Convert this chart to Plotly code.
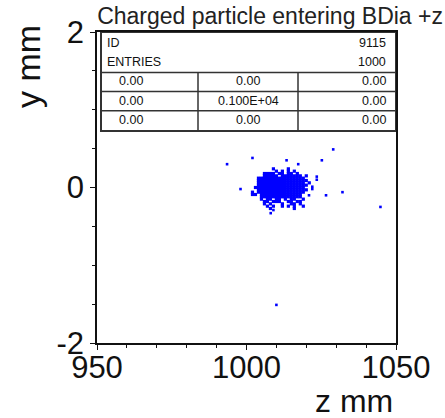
import plotly.graph_objects as go

# ---- data ----
title_text = "Charged particle entering BDia +z"
x_title = "z mm"
y_title = "y mm"

# dense core: rows of y (mm) and the z (mm) cells that are filled in each row
core_y = [0.24, 0.21, 0.18, 0.15, 0.12, 0.09, 0.06, 0.03, 0.00, -0.03,
          -0.06, -0.09, -0.12, -0.15, -0.18, -0.21, -0.24, -0.27]
core_z = [
    [1009, 1014],
    [1010, 1012, 1014, 1016],
    [1006, 1007, 1008, 1009, 1011, 1012, 1014, 1015, 1017],
    [1006, 1007, 1008, 1009, 1010, 1012, 1013, 1014, 1015, 1016, 1017, 1018, 1020],
    [1004, 1005, 1006, 1007, 1008, 1009, 1010, 1011, 1012, 1013, 1014, 1015, 1016, 1017, 1018, 1019],
    [1004, 1005, 1006, 1007, 1008, 1009, 1010, 1011, 1012, 1013, 1014, 1015, 1016, 1017, 1018, 1019, 1020],
    [1004, 1005, 1006, 1007, 1008, 1009, 1010, 1011, 1012, 1013, 1014, 1015, 1016, 1017, 1018, 1019, 1021],
    [1004, 1005, 1006, 1007, 1008, 1009, 1010, 1011, 1012, 1013, 1014, 1015, 1016, 1017, 1018, 1019, 1020],
    [1003, 1004, 1005, 1006, 1007, 1008, 1009, 1010, 1011, 1012, 1013, 1014, 1015, 1016, 1017, 1018, 1019],
    [1004, 1005, 1006, 1007, 1008, 1009, 1010, 1011, 1012, 1013, 1014, 1015, 1016, 1017, 1018, 1019, 1020],
    [1002, 1004, 1005, 1006, 1007, 1008, 1009, 1010, 1011, 1012, 1013, 1014, 1015, 1016, 1017, 1018, 1019],
    [1002, 1003, 1005, 1006, 1007, 1008, 1009, 1010, 1011, 1012, 1013, 1014, 1015, 1016, 1017, 1018],
    [1005, 1006, 1007, 1008, 1009, 1010, 1011, 1012, 1013, 1014, 1015, 1016, 1017, 1018],
    [1005, 1007, 1008, 1010, 1011, 1013, 1015, 1016, 1019],
    [1006, 1007, 1009, 1010, 1011, 1014, 1015, 1017, 1018],
    [1006, 1008, 1012, 1015, 1016, 1018],
    [1007, 1009, 1012, 1014, 1016, 1019],
    [1008, 1016],
]

# isolated entries
out_z = [1029.0, 1002.0, 993.5, 1013.4, 1017.3, 1025.2, 998.0, 1023.5, 1023.5,
         1026.6, 1032.1, 1044.8, 1008.1, 1009.0, 1022.0, 1022.0, 1020.9, 1010.0]
out_y = [0.49, 0.38, 0.30, 0.35, 0.30, 0.35, -0.02, 0.14, 0.10,
         -0.10, -0.06, -0.25, -0.33, -0.29, 0.01, -0.02, -0.10, -1.51]

# statistics box
stat_id = "9115"
stat_entries = "1000"
stat_rows = [["0.00", "0.00", "0.00"],
             ["0.00", "0.100E+04", "0.00"],
             ["0.00", "0.00", "0.00"]]

x_range = [950, 1050]
y_range = [-2, 2]
x_ticks = [950, 1000, 1050]
y_ticks = [-2, 0, 2]

# ---- build figure ----
cz, cy = [], []
for yv, zs in zip(core_y, core_z):
    for zv in zs:
        cz.append(zv)
        cy.append(yv)

FONT = "Liberation Sans, Arial, sans-serif"
BLUE = "#0000ff"

fig = go.Figure()
fig.add_trace(go.Scatter(x=cz, y=cy, mode="markers",
                         marker=dict(symbol="square", size=3.2, color=BLUE,
                                     line=dict(width=0)),
                         hoverinfo="skip", showlegend=False))
fig.add_trace(go.Scatter(x=out_z, y=out_y, mode="markers",
                         marker=dict(symbol="square", size=2.6, color=BLUE,
                                     line=dict(width=0)),
                         hoverinfo="skip", showlegend=False))

axis_common = dict(showgrid=False, zeroline=False, showline=True,
                   linecolor="#111", linewidth=1.5, mirror=True,
                   ticks="outside", ticklen=5, tickwidth=1.2, tickcolor="#111",
                   tickfont=dict(family=FONT, size=31, color="#111"),
                   automargin=False)

fig.update_xaxes(range=x_range, tickvals=x_ticks, ticktext=[str(v) for v in x_ticks],
                 minor=dict(dtick=10, ticks="outside", ticklen=3, tickcolor="#111", tickwidth=1),
                 ticklabelstandoff=-9,
                 **axis_common)
fig.update_yaxes(range=y_range, tickvals=y_ticks, ticktext=[str(v) for v in y_ticks],
                 minor=dict(dtick=0.5, ticks="outside", ticklen=3, tickcolor="#111", tickwidth=1),
                 ticklabelstandoff=0,
                 **axis_common)

# plot area in pixels: x 97..396, y 32..343
L, R, T, B = 97, 396, 32, 343
W, H = 445, 418
def px(xp):
    return (xp - L) / (R - L)
def py(yp):
    return 1 - (yp - T) / (B - T)

shapes = []
line_col = "#333"
# box
shapes.append(dict(type="rect", xref="paper", yref="paper",
                   x0=px(101), x1=px(396), y0=py(131), y1=py(32),
                   line=dict(color=line_col, width=2), fillcolor="white", layer="below"))
for yp in [72.5, 91.5, 110.7]:
    shapes.append(dict(type="line", xref="paper", yref="paper",
                       x0=px(101), x1=px(396), y0=py(yp), y1=py(yp),
                       line=dict(color=line_col, width=1.5)))
for xp in [198, 298]:
    shapes.append(dict(type="line", xref="paper", yref="paper",
                       x0=px(xp), x1=px(xp), y0=py(72.5), y1=py(131),
                       line=dict(color=line_col, width=1.5)))

ann = []
sfont = dict(family=FONT, size=12.5, color="#111")
def txt(t, xp, yp, anchor):
    ann.append(dict(text=t, xref="paper", yref="paper", x=px(xp), y=py(yp),
                    xanchor=anchor, yanchor="middle", showarrow=False, font=sfont))
txt("ID", 105, 43.5, "left")
txt(stat_id, 388, 43.5, "right")
txt("ENTRIES", 105, 61.5, "left")
txt(stat_entries, 388, 61.5, "right")
for row, yp in zip(stat_rows, [81.5, 101, 120.5]):
    txt(row[0], 117, yp, "left")
    txt(row[1], 248, yp, "center")
    txt(row[2], 388, yp, "right")

# axis titles
ann.append(dict(text=x_title, xref="paper", yref="paper", x=px(395), y=py(401),
                xanchor="right", yanchor="middle", showarrow=False,
                font=dict(family=FONT, size=32, color="#111")))
ann.append(dict(text=y_title, xref="paper", yref="paper", x=px(28), y=py(67),
                xanchor="center", yanchor="middle", showarrow=False, textangle=-90,
                font=dict(family=FONT, size=34, color="#111")))

fig.update_layout(
    width=W, height=H,
    margin=dict(l=L, r=W - R, t=T, b=H - B, pad=0),
    paper_bgcolor="white", plot_bgcolor="white",
    shapes=shapes, annotations=ann,
    title=dict(text=title_text, xref="container", yref="container",
               x=443 / W, xanchor="right", y=1 - 16 / H, yanchor="middle",
               font=dict(family=FONT, size=23, color="#222")),
    showlegend=False,
)

fig.write_html("out.html", config={"displayModeBar": False},
               post_script="document.body.style.margin='0';document.body.style.padding='0';")
